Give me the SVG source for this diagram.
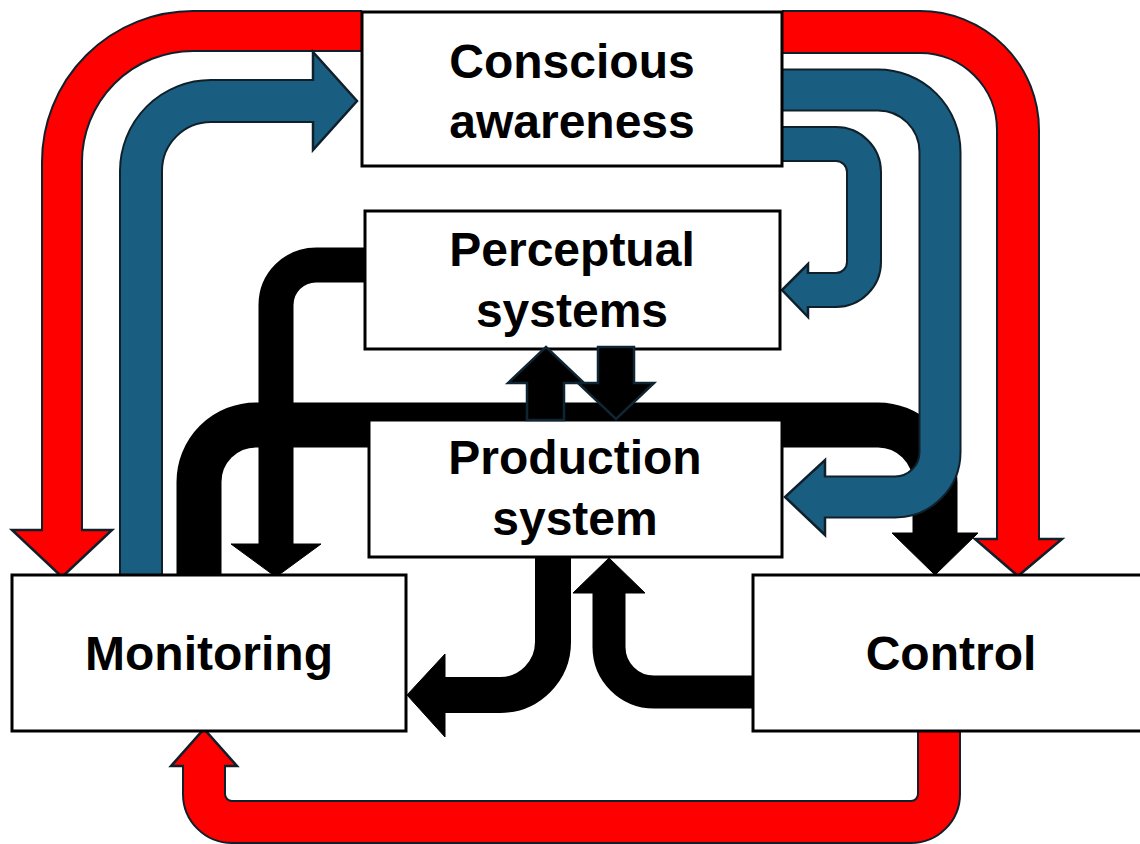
<svg xmlns="http://www.w3.org/2000/svg" width="1140" height="844" viewBox="0 0 1140 844">
<style>
.box{fill:#fff;stroke:#000;stroke-width:3}
.t{font-family:"Liberation Sans",Arial,sans-serif;font-weight:bold;font-size:48px;fill:#000;text-anchor:middle}
.o{fill:none;stroke:#10202a}
.rf{fill:none;stroke:#ff0000}
.bf{fill:none;stroke:#195e80}
.kf{fill:none;stroke:#000}
.rh{fill:#ff0000;stroke:#10202a;stroke-width:2.5;stroke-linejoin:miter}
.bh{fill:#195e80;stroke:#10202a;stroke-width:2.5}
.kh{fill:#000;stroke:#000;stroke-width:1}
.sk{fill:#000;stroke:#0f2533;stroke-width:2.5}
</style>
<rect width="1140" height="844" fill="#fff"/>
<g id="connectors">
  <!-- black big bar: Monitoring -> Control -->
  <path class="kf" stroke-width="45" d="M199,575 V482 A57,57 0 0 1 256,425 H878 A57,57 0 0 1 935,482 V535"/>
  <polygon class="kh" points="892,533 978,533 935,575"/>
  <!-- black: Perceptual -> Monitoring -->
  <path class="kf" stroke-width="35" d="M365,265 H316 A40,40 0 0 0 276,305 V546"/>
  <polygon class="kh" points="231,544 321,544 276,577"/>
  <!-- black: Production -> Monitoring -->
  <path class="kf" stroke-width="36" d="M553,557 V642 A53,53 0 0 1 500,695 H444"/>
  <polygon class="kh" points="445,654 445,737 407,695"/>
  <!-- black: Control -> Production -->
  <path class="kf" stroke-width="33" d="M753,692 H654 A45,45 0 0 1 609,647 V592"/>
  <polygon class="kh" points="573,593 645,593 609,558"/>
  <!-- red top-left: Conscious -> Monitoring -->
  <path class="o" stroke-width="42" d="M362,31 H193 A131,131 0 0 0 62,162 V530"/>
  <polygon class="rh" points="12,530 112,530 62,577"/>
  <path class="rf" stroke-width="38" d="M362,31 H193 A131,131 0 0 0 62,162 V533"/>
  <!-- red top-right: Conscious -> Control -->
  <path class="o" stroke-width="44" d="M782,32 H920 A98,98 0 0 1 1018,130 V539"/>
  <polygon class="rh" points="975,539 1062,539 1018,576"/>
  <path class="rf" stroke-width="40" d="M782,32 H920 A98,98 0 0 1 1018,130 V542"/>
  <!-- blue: Monitoring -> Conscious -->
  <path class="o" stroke-width="44" d="M141,575 V171 A70,70 0 0 1 211,101 H313"/>
  <polygon class="bh" points="313,52 313,150 357,101"/>
  <path class="bf" stroke-width="40" d="M141,575 V171 A70,70 0 0 1 211,101 H316"/>
  <!-- blue: Conscious -> Production -->
  <path class="o" stroke-width="43" d="M782,90 H878 A62,62 0 0 1 940,152 V452 A45,45 0 0 1 895,497 H825"/>
  <polygon class="bh" points="825,460 825,535 785,497"/>
  <path class="bf" stroke-width="39" d="M782,90 H878 A62,62 0 0 1 940,152 V452 A45,45 0 0 1 895,497 H822"/>
  <!-- blue: Conscious -> Perceptual -->
  <path class="o" stroke-width="36" d="M782,144 H836 A28,28 0 0 1 864,172 V262 A28,28 0 0 1 836,290 H808"/>
  <polygon class="bh" points="808,264 808,317 782,290"/>
  <path class="bf" stroke-width="32" d="M782,144 H836 A28,28 0 0 1 864,172 V262 A28,28 0 0 1 836,290 H805"/>
  <!-- red bottom: Control -> Monitoring -->
  <path class="o" stroke-width="44" d="M939,731 V794 A28,28 0 0 1 911,822 H232 A28,28 0 0 1 204,794 V766"/>
  <polygon class="rh" points="171,766 237,766 204,729"/>
  <path class="rf" stroke-width="40" d="M939,731 V794 A28,28 0 0 1 911,822 H232 A28,28 0 0 1 204,794 V763"/>
</g>
<g id="node-conscious">
  <rect class="box" x="362" y="12" width="420" height="154"/>
  <text class="t" x="572" y="78">Conscious</text>
  <text class="t" x="572" y="138">awareness</text>
</g>
<g id="node-perceptual">
  <rect class="box" x="365" y="211" width="415" height="138"/>
  <text class="t" x="572" y="266">Perceptual</text>
  <text class="t" x="572" y="327">systems</text>
</g>
<g id="node-production">
  <rect class="box" x="369" y="420" width="413" height="137"/>
  <text class="t" x="575" y="474">Production</text>
  <text class="t" x="575" y="535">system</text>
</g>
<g id="node-monitoring">
  <rect class="box" x="12" y="575" width="394" height="156"/>
  <text class="t" x="209" y="670">Monitoring</text>
</g>
<g id="node-control">
  <rect class="box" x="753" y="575" width="400" height="156"/>
  <text class="t" x="951" y="670">Control</text>
</g>
<g id="connectors-over">
  <polygon class="sk" points="527,420 527,383 508,383 546,347 584,383 564,383 564,420"/>
  <polygon class="sk" points="598,347 634,347 634,383 654,383 616,419 578,383 598,383"/>
</g>
</svg>
